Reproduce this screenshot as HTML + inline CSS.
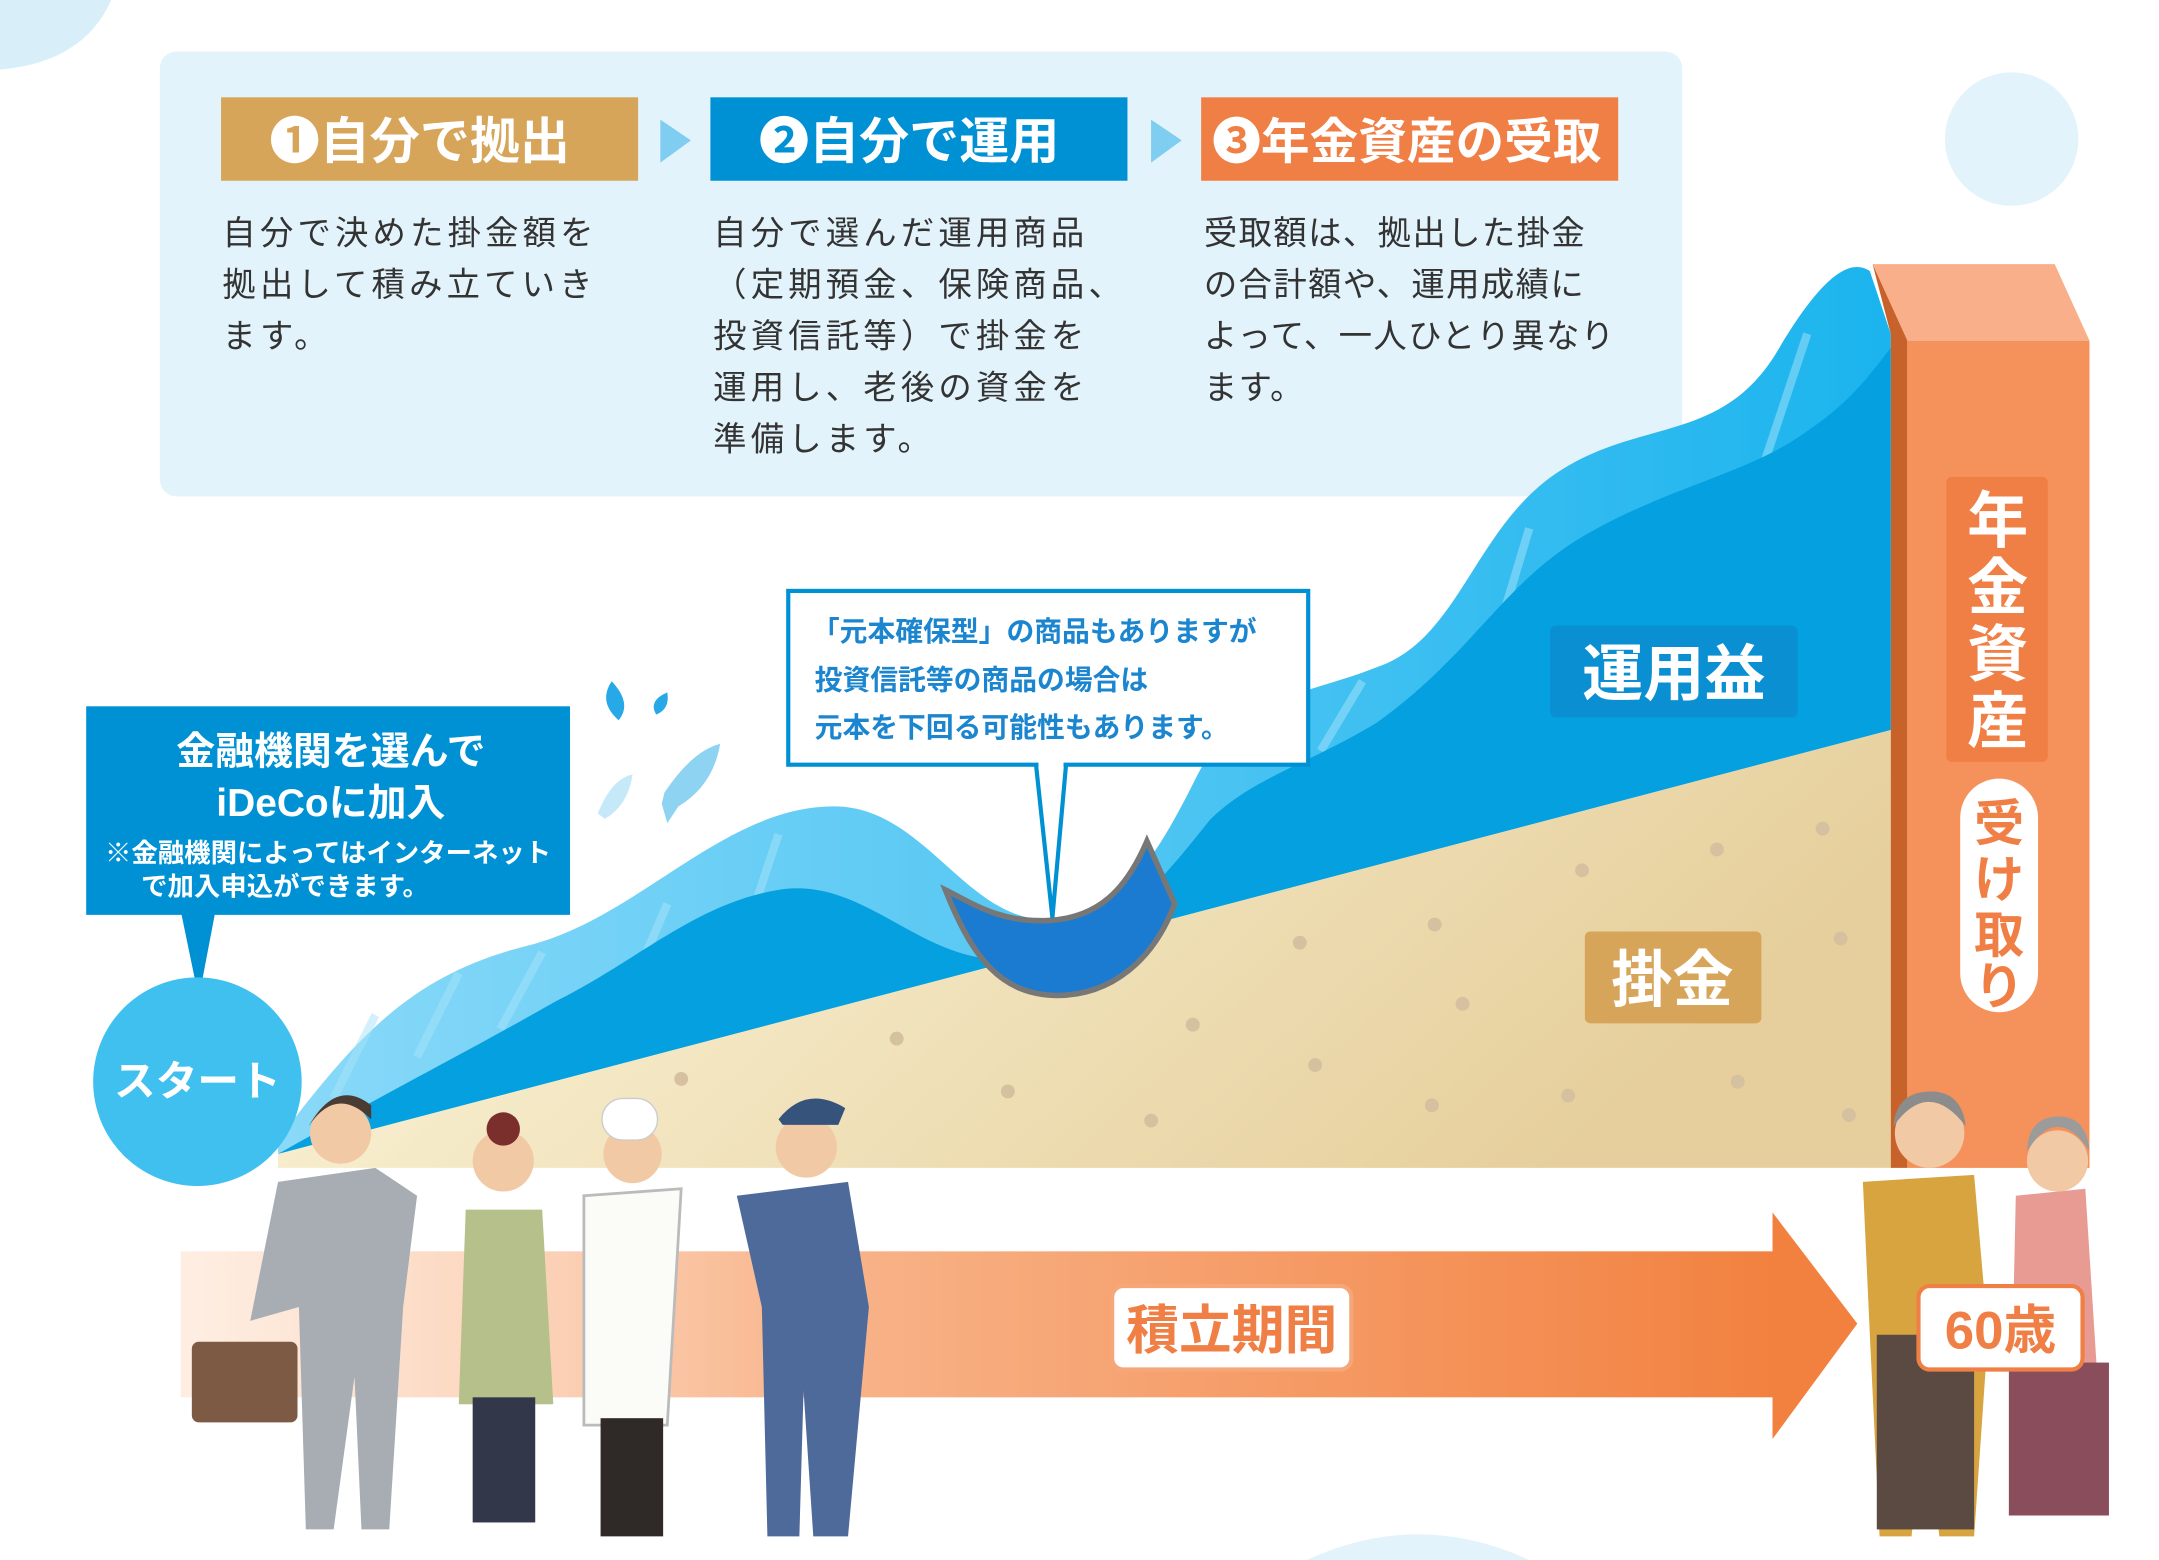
<!DOCTYPE html>
<html><head><meta charset="utf-8">
<style>
html,body{margin:0;padding:0;background:#fff;width:2159px;height:1560px;overflow:hidden;}
svg{display:block;}
text{font-family:"Liberation Sans","Noto Sans CJK JP",sans-serif;}
</style></head>
<body>
<svg width="2159" height="1560" viewBox="0 0 1553 1122" preserveAspectRatio="none" xmlns="http://www.w3.org/2000/svg">
<defs>
<linearGradient id="beige" x1="0" y1="0" x2="1" y2="0.3">
<stop offset="0" stop-color="#fdf8df"/><stop offset="1" stop-color="#e6cf9c"/></linearGradient>
<linearGradient id="arr" x1="0" y1="0" x2="1" y2="0">
<stop offset="0" stop-color="#fde3d0" stop-opacity="0.6"/><stop offset="0.4" stop-color="#f8b48a"/><stop offset="1" stop-color="#f28140"/></linearGradient>
<linearGradient id="lb" x1="0" y1="0" x2="1" y2="0">
<stop offset="0" stop-color="#8ad9f8"/><stop offset="1" stop-color="#1bb4ee"/></linearGradient>
</defs>
<path d="M0,0 L80,0 Q60,45 0,50 Z" fill="#d8eef9"/>
<circle cx="1447" cy="100" r="48" fill="#e3f3fb"/>
<path d="M940,1122 Q1020,1085 1100,1122 Z" fill="#e3f3fb"/>
<rect x="115" y="37" width="1095" height="320" rx="12" fill="#e3f3fb"/>
<rect x="159" y="70" width="300" height="60" fill="#d6a55a"/>
<rect x="511" y="70" width="300" height="60" fill="#0091d5"/>
<rect x="864" y="70" width="300" height="60" fill="#f07f45"/>
<polygon points="475,86 497,101 475,117" fill="#7fcdf0"/>
<polygon points="828,86 850,101 828,117" fill="#7fcdf0"/>
<g fill="#fff" font-weight="bold" font-size="36">
<text x="194" y="114">❶自分で拠出</text>
<text x="546" y="114">❷自分で運用</text>
<text x="872" y="114" font-size="35">❸年金資産の受取</text>
</g>
<g fill="#333" font-size="24" letter-spacing="3">
<text x="160" y="176">自分で決めた掛金額を</text>
<text x="160" y="213">拠出して積み立ていき</text>
<text x="160" y="250">ます。</text>
<text x="513" y="176">自分で選んだ運用商品</text>
<text x="513" y="213">（定期預金、保険商品、</text>
<text x="513" y="250">投資信託等）で掛金を</text>
<text x="513" y="287">運用し、老後の資金を</text>
<text x="513" y="324">準備します。</text>
<text x="866" y="176" letter-spacing="1">受取額は、拠出した掛金</text>
<text x="866" y="213" letter-spacing="1">の合計額や、運用成績に</text>
<text x="866" y="250" letter-spacing="1">よって、一人ひとり異なり</text>
<text x="866" y="287" letter-spacing="1">ます。</text>
</g>
<polygon points="1347,190 1478,190 1503,245 1372,245" fill="#f9b08a"/>
<polygon points="1347,190 1372,245 1372,840 1360,840 1360,240" fill="#c8622b"/>
<rect x="1372" y="245" width="131" height="595" fill="#f5925c"/>
<path d="M200,820 C260,740 300,700 380,680 C460,660 520,580 600,580 C660,580 690,650 740,660 C800,670 830,620 860,560 C890,500 940,500 990,480 C1050,460 1060,380 1120,340 C1180,300 1240,320 1280,250 C1310,200 1330,185 1345,195 L1360,240 L1360,525 L200,830 Z" fill="url(#lb)"/>
<g stroke="#a8e4fa" stroke-width="6" opacity="0.5">
<line x1="240" y1="790" x2="270" y2="730"/><line x1="300" y1="760" x2="330" y2="700"/>
<line x1="360" y1="740" x2="390" y2="685"/><line x1="450" y1="720" x2="480" y2="650"/>
<line x1="530" y1="690" x2="560" y2="600"/><line x1="950" y1="540" x2="980" y2="490"/>
<line x1="1070" y1="480" x2="1100" y2="380"/><line x1="1270" y1="330" x2="1300" y2="240"/>
</g>
<path d="M200,830 C270,790 330,760 400,720 C460,690 500,650 560,640 C620,630 660,690 720,690 C790,690 830,640 870,590 C900,560 940,550 990,520 C1060,470 1080,420 1140,385 C1200,350 1260,340 1300,310 C1330,290 1345,270 1360,250 L1360,525 Z" fill="#05a0e0"/>
<polygon points="200,830 1360,525 1360,840 200,840" fill="url(#beige)"/>
<g fill="#d5c1a0">
<circle cx="490" cy="776" r="5"/><circle cx="645" cy="747" r="5"/><circle cx="725" cy="785" r="5"/>
<circle cx="828" cy="806" r="5"/><circle cx="858" cy="737" r="5"/><circle cx="935" cy="678" r="5"/>
<circle cx="946" cy="766" r="5"/><circle cx="1032" cy="665" r="5"/><circle cx="1052" cy="722" r="5"/>
<circle cx="1030" cy="795" r="5"/><circle cx="1138" cy="626" r="5"/><circle cx="1128" cy="788" r="5"/>
<circle cx="1235" cy="611" r="5"/><circle cx="1250" cy="778" r="5"/><circle cx="1311" cy="596" r="5"/>
<circle cx="1324" cy="675" r="5"/><circle cx="1330" cy="802" r="5"/>
</g>
<path d="M680,640 C700,690 720,715 760,716 C800,716 830,690 845,650 L825,605 C810,640 790,660 755,662 C720,664 700,650 680,640 Z" fill="#1b7bd0" stroke="#777" stroke-width="4"/>
<path d="M440,490 q-10,15 5,28 q10,-12 -5,-28z" fill="#26a9e6"/>
<path d="M480,498 q-14,6 -8,16 q10,-4 8,-16z" fill="#26a9e6"/>
<path d="M478,570 q20,-30 40,-35 q-5,30 -30,45 l-8,12 l-4,-14z" fill="#8fd3f3"/>
<path d="M430,585 q10,-25 25,-28 q-3,22 -20,32z" fill="#c5e9f9"/>
<polygon points="745,548 767,548 757,660" fill="#fff" stroke="#0091d5" stroke-width="3"/>
<rect x="567" y="425" width="374" height="125" fill="#fff" stroke="#0091d5" stroke-width="3"/>
<rect x="747" y="546" width="18" height="6" fill="#fff"/>
<g fill="#1b86cf" font-weight="bold" font-size="20">
<text x="584" y="461">「元本確保型」の商品もありますが</text>
<text x="586" y="496">投資信託等の商品の場合は</text>
<text x="586" y="530">元本を下回る可能性もあります。</text>
</g>
<polygon points="130,655 155,655 143,718" fill="#0091d5"/>
<rect x="62" y="508" width="348" height="150" fill="#0091d5"/>
<g fill="#fff" font-weight="bold" text-anchor="middle">
<text x="238" y="550" font-size="28">金融機関を選んで</text>
<text x="238" y="587" font-size="28">iDeCoに加入</text>
<text x="236" y="620" font-size="19">※金融機関によってはインターネット</text>
<text x="205" y="644" font-size="19">で加入申込ができます。</text>
</g>
<circle cx="142" cy="778" r="75" fill="#3fc0ef"/>
<text x="142" y="788" fill="#fff" font-weight="bold" font-size="30" text-anchor="middle">スタート</text>
<rect x="1115" y="450" width="178" height="66" rx="4" fill="#0a8fd2"/>
<text x="1204" y="500" fill="#fff" font-weight="bold" font-size="44" text-anchor="middle">運用益</text>
<rect x="1140" y="670" width="127" height="66" rx="4" fill="#d6a55a"/>
<text x="1203" y="720" fill="#fff" font-weight="bold" font-size="44" text-anchor="middle">掛金</text>
<rect x="1400" y="343" width="73" height="205" rx="4" fill="#f07f45"/>
<g fill="#fff" font-weight="bold" font-size="44" text-anchor="middle">
<text x="1437" y="390">年</text><text x="1437" y="438">金</text><text x="1437" y="486">資</text><text x="1437" y="534">産</text>
</g>
<rect x="1410" y="560" width="56" height="168" rx="28" fill="#fff"/>
<g fill="#f07f45" font-weight="bold" font-size="36" text-anchor="middle">
<text x="1438" y="605">受</text><text x="1438" y="645">け</text><text x="1438" y="685">取</text><text x="1438" y="722">り</text>
</g>
<rect x="130" y="900" width="1146" height="105" fill="url(#arr)"/>
<polygon points="1275,872 1336,952 1275,1035" fill="#f28140"/>
<rect x="800" y="925" width="172" height="60" rx="8" fill="#fff" stroke="#f5a77a" stroke-width="3"/>
<text x="886" y="970" fill="#f07f45" font-weight="bold" font-size="38" text-anchor="middle">積立期間</text>
<g>
<rect x="138" y="965" width="76" height="58" rx="5" fill="#7d5a43"/>
<path d="M200,850 L270,840 L300,860 L290,940 L280,1100 L260,1100 L255,990 L240,1100 L220,1100 L215,940 L180,950 Z" fill="#a7adb3"/>
<circle cx="245" cy="815" r="22" fill="#f2c9a5"/><path d="M222,810 q20,-30 45,-5 l0,-10 q-25,-20 -45,15z" fill="#4a3b33"/>
<path d="M335,870 L390,870 L398,1010 L330,1010 Z" fill="#b5c08a"/>
<rect x="340" y="1005" width="45" height="90" fill="#323849"/>
<circle cx="362" cy="835" r="22" fill="#f2c9a5"/><circle cx="362" cy="812" r="12" fill="#7a2f2c"/>
<path d="M420,860 L490,855 L480,1025 L420,1025 Z" fill="#fbfbf7" stroke="#bbb" stroke-width="2"/>
<rect x="432" y="1020" width="45" height="85" fill="#2f2a28"/>
<circle cx="455" cy="830" r="21" fill="#f2c9a5"/><rect x="433" y="790" width="40" height="30" rx="15" fill="#fff" stroke="#ccc"/>
<path d="M530,860 L610,850 L625,940 L610,1105 L585,1105 L578,1000 L575,1105 L552,1105 L548,940 Z" fill="#4d6a9a"/>
<circle cx="580" cy="825" r="22" fill="#f2c9a5"/><path d="M560,805 q20,-25 48,-8 l-5,12 l-40,0z" fill="#36537c"/>
<path d="M1340,850 L1420,845 L1430,960 L1420,1105 L1395,1105 L1385,1010 L1375,1105 L1352,1105 L1345,960 Z" fill="#d7a440"/>
<rect x="1350" y="960" width="70" height="140" fill="#5b4a42"/>
<circle cx="1388" cy="815" r="25" fill="#f2c9a5"/><path d="M1362,810 q25,-35 52,0 q-3,-25 -25,-25 q-25,0 -27,25z" fill="#8c8c8c"/>
<path d="M1450,860 L1500,855 L1515,1090 L1445,1090 Z" fill="#e79b92"/>
<rect x="1445" y="980" width="72" height="110" fill="#8a4d5c"/>
<circle cx="1480" cy="835" r="22" fill="#f2c9a5"/><path d="M1458,828 q22,-35 45,0 q-2,-25 -22,-25 q-22,0 -23,25z" fill="#9b9b9b"/>
</g>
<rect x="1380" y="925" width="118" height="60" rx="8" fill="#fff" stroke="#f07f45" stroke-width="3"/>
<text x="1439" y="970" fill="#f07f45" font-weight="bold" font-size="38" text-anchor="middle">60歳</text>
</svg>
</body></html>
